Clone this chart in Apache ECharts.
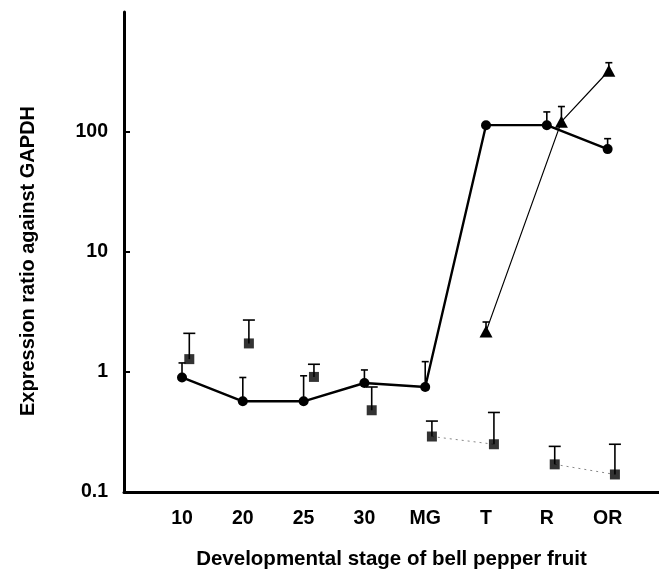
<!DOCTYPE html>
<html>
<head>
<meta charset="utf-8">
<script src="https://cdn.jsdelivr.net/npm/echarts@6/dist/echarts.min.js"></script>
<style>
html,body{margin:0;padding:0;background:#fff;}
#chart{width:659px;height:571px;}
</style>
</head>
<body>
<div id="chart"></div>
<script>
// ---- data ----
var stageLabels = ['10', '20', '25', '30', 'MG', 'T', 'R', 'OR'];
var stagePos = [0, 1, 2, 3, 4, 5, 6, 7];
var yTickValues = [0.1, 1, 10, 100];

// circles (solid thick line)
var circleX = [0, 1, 2, 3, 4, 5, 6, 7];
var circleY = [0.90, 0.57, 0.57, 0.81, 0.75, 114, 114, 72];
var circleErrTop = [1.19, 0.90, 0.93, 1.04, 1.22, null, 147, 88];

// squares (unconnected except faint dotted MG–T and R–OR)
var squareX = [0.12, 1.10, 2.17, 3.12, 4.11, 5.13, 6.13, 7.12];
var squareY = [1.28, 1.73, 0.91, 0.48, 0.29, 0.25, 0.17, 0.14];
var squareErrTop = [2.10, 2.71, 1.16, 0.75, 0.39, 0.46, 0.24, 0.25];

// triangles (thin line)
var triX = [5.00, 6.24, 7.02];
var triY = [2.17, 122, 324];
var triErrTop = [2.61, 163, 378];

// ---- build ----
function pairs(xs, ys) { return xs.map(function (x, i) { return [x, ys[i]]; }); }
function errData(xs, ys, tops) {
  var out = [];
  xs.forEach(function (x, i) { if (tops[i] != null) out.push([x, ys[i], tops[i]]); });
  return out;
}
function errSeries(data, capHalf) {
  return {
    type: 'custom',
    z: 1,
    silent: true,
    renderItem: function (params, api) {
      var p0 = api.coord([api.value(0), api.value(1)]);
      var p1 = api.coord([api.value(0), api.value(2)]);
      var st = { stroke: '#000', lineWidth: 1.6, fill: null };
      return {
        type: 'group',
        children: [
          { type: 'line', shape: { x1: p0[0], y1: p0[1], x2: p1[0], y2: p1[1] }, style: st },
          { type: 'line', shape: { x1: p1[0] - capHalf, y1: p1[1], x2: p1[0] + capHalf, y2: p1[1] }, style: st }
        ]
      };
    },
    encode: { x: 0, y: [1, 2] },
    data: data
  };
}

var chart = echarts.init(document.getElementById('chart'), null, { renderer: 'canvas' });
var fontFam = '"Liberation Sans", Arial, Helvetica, sans-serif';

chart.setOption({
  animation: false,
  backgroundColor: '#fff',
  grid: { left: 124, top: 12, width: 535, height: 480, outerBoundsMode: 'none', containLabel: false },
  xAxis: {
    type: 'value',
    min: -0.954,
    max: 7.845,
    splitLine: { show: false },
    axisLine: { show: true, onZero: false, lineStyle: { color: '#000', width: 3 } },
    axisTick: { show: false },
    axisLabel: {
      customValues: stagePos,
      margin: 17,
      color: '#000',
      fontFamily: fontFam,
      fontWeight: 'bold',
      fontSize: 19.5,
      formatter: function (v) { return stageLabels[Math.round(v)]; }
    },
    name: 'Developmental stage of bell pepper fruit',
    nameLocation: 'middle',
    nameGap: 57,
    nameTextStyle: { color: '#000', fontFamily: fontFam, fontWeight: 'bold', fontSize: 20.5 }
  },
  yAxis: {
    type: 'log',
    logBase: 10,
    min: 0.1,
    max: 1000,
    splitLine: { show: false },
    axisLine: { show: true, onZero: false, lineStyle: { color: '#000', width: 3 } },
    axisTick: { show: true, inside: true, length: 6, customValues: [1, 10, 100], lineStyle: { color: '#000', width: 2 } },
    axisLabel: {
      customValues: yTickValues,
      margin: 16,
      color: '#000',
      fontFamily: fontFam,
      fontWeight: 'bold',
      fontSize: 19.5,
      padding: [4, 0, 0, 0],
      formatter: function (v) {
        var best = yTickValues[0];
        yTickValues.forEach(function (t) { if (Math.abs(Math.log10(t) - Math.log10(v)) < Math.abs(Math.log10(best) - Math.log10(v))) best = t; });
        return String(best);
      }
    },
    name: 'Expression ratio against GAPDH',
    nameLocation: 'middle',
    nameGap: 86,
    nameRotate: 90,
    nameTextStyle: { color: '#000', fontFamily: fontFam, fontWeight: 'bold', fontSize: 20, padding: [0, 18, 0, 0] }
  },
  series: [
    errSeries(errData(circleX, circleY, circleErrTop), 3.5),
    errSeries(errData(squareX, squareY, squareErrTop), 6),
    errSeries(errData(triX, triY, triErrTop), 3.5),
    {
      type: 'line', z: 2, silent: true,
      data: pairs(squareX.slice(4, 6), squareY.slice(4, 6)),
      symbol: 'none',
      lineStyle: { color: '#888', width: 1, type: [2, 4] }
    },
    {
      type: 'line', z: 2, silent: true,
      data: pairs(squareX.slice(6, 8), squareY.slice(6, 8)),
      symbol: 'none',
      lineStyle: { color: '#888', width: 1, type: [2, 4] }
    },
    {
      type: 'scatter', z: 4, silent: true,
      data: pairs(squareX, squareY),
      symbol: 'rect', symbolSize: 10,
      itemStyle: { color: '#000' }
    },
    {
      type: 'line', z: 3, silent: true,
      data: pairs(triX, triY),
      symbol: 'triangle', symbolSize: [13, 12],
      showAllSymbol: true,
      lineStyle: { color: '#000', width: 1.2 },
      itemStyle: { color: '#000', borderWidth: 0 }
    },
    {
      type: 'line', z: 5, silent: true,
      data: pairs(circleX, circleY),
      symbol: 'circle', symbolSize: 10,
      showAllSymbol: true,
      lineStyle: { color: '#000', width: 2.4 },
      itemStyle: { color: '#000', borderWidth: 0 }
    }
  ]
});
</script>
</body>
</html>
